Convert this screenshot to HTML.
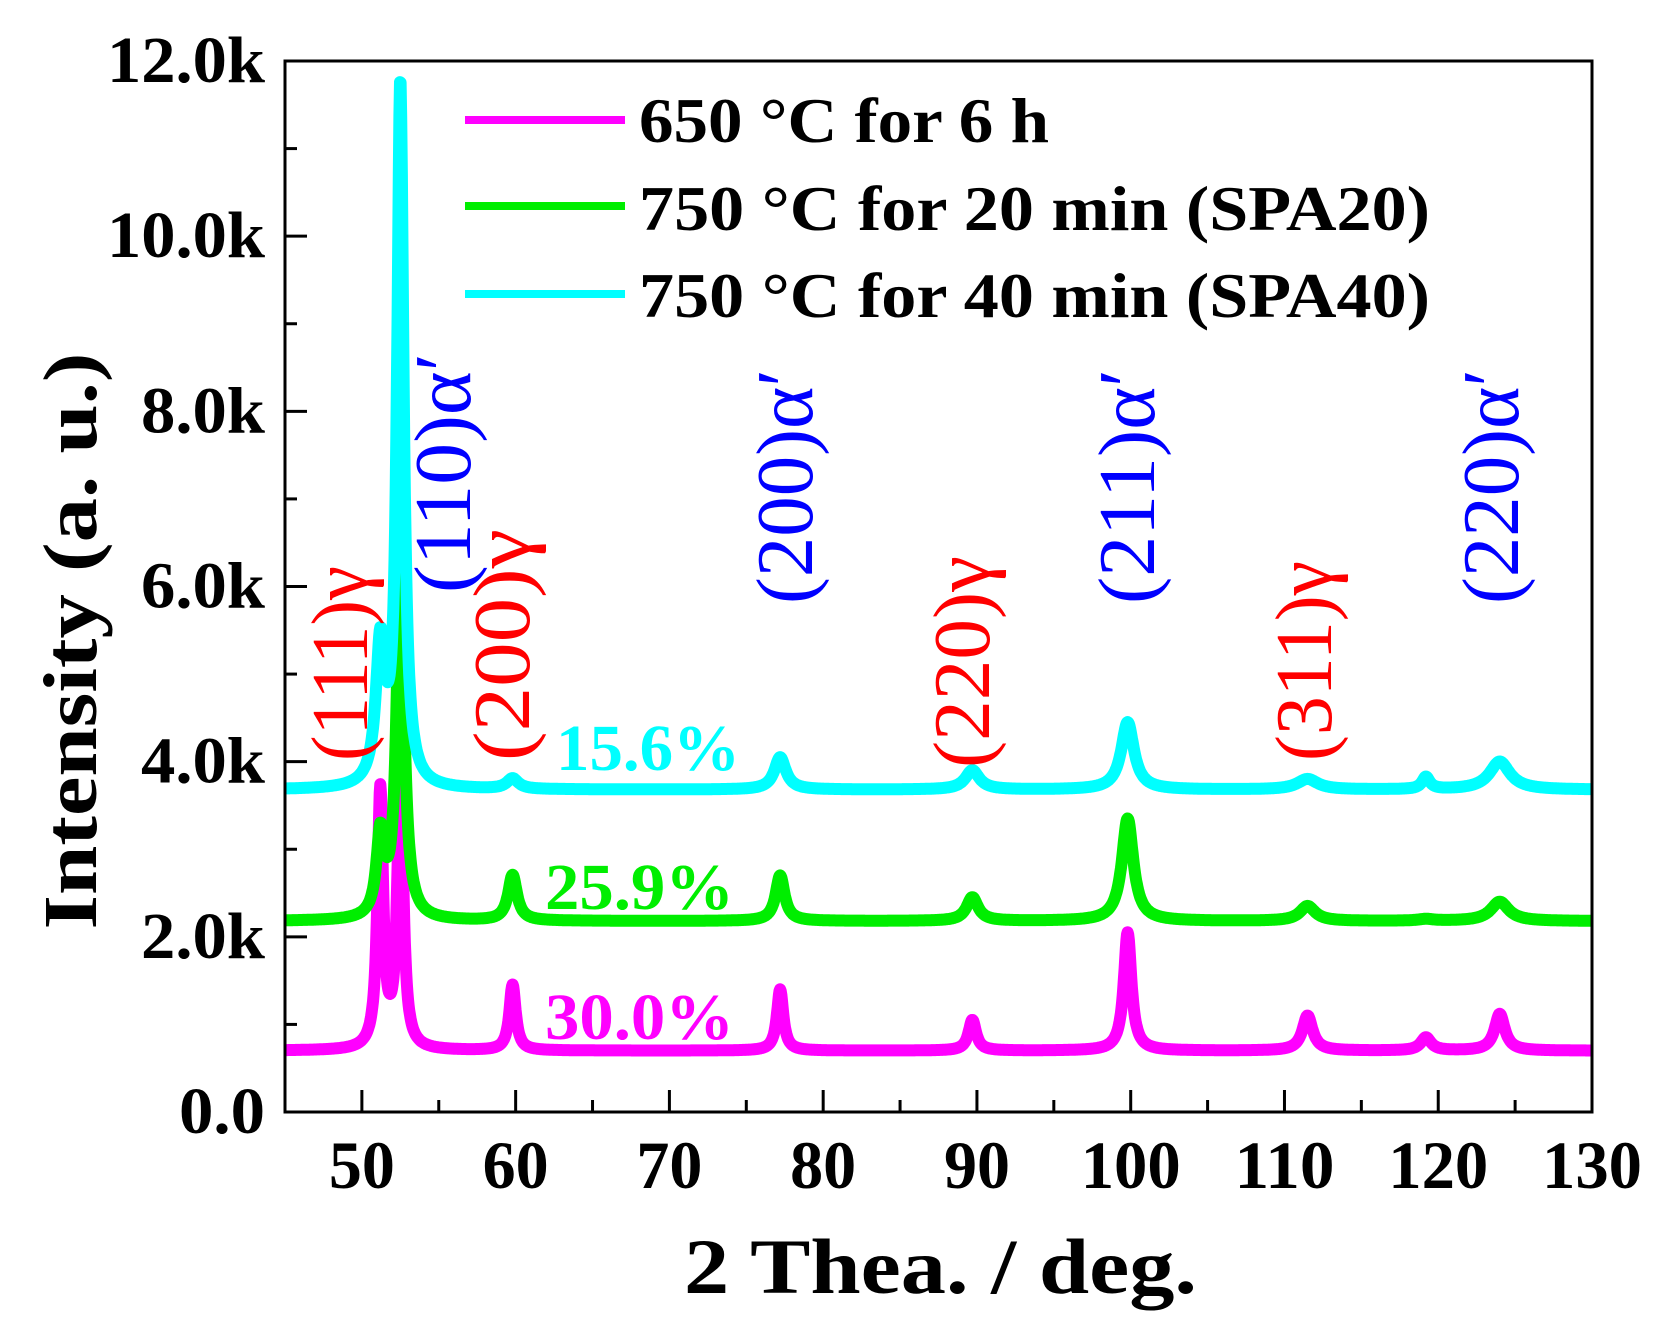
<!DOCTYPE html>
<html><head><meta charset="utf-8"><style>
html,body{margin:0;padding:0;background:#fff}
svg{display:block}
text{font-family:"Liberation Serif",serif}
</style></head><body>
<svg id="chart" width="1667" height="1331" viewBox="0 0 1667 1331" xmlns="http://www.w3.org/2000/svg">
<g id="plot"></g>
</svg>
<script>
const xTicks=[50,60,70,80,90,100,110,120,130];
const yTicks=[0,2000,4000,6000,8000,10000,12000];
const yTickLabels=["0.0","2.0k","4.0k","6.0k","8.0k","10.0k","12.0k"];
const seriesNames=["650 °C for 6 h","750 °C for 20 min (SPA20)","750 °C for 40 min (SPA40)"];
const baselines=[700,2180,3680];
const peakPos=[51.2,52.5,59.8,77.2,89.7,99.8,111.5,119.2,124.0];
const magentaPeaks=[3650,4050,1450,1400,1050,2050,1100,850,1120];
const greenPeaks=[3100,6200,2700,2700,2450,3350,2350,2200,2400];
const cyanPeaks=[5250,11700,3800,4050,3900,4450,3800,3820,4000];
const peakWidthM=[0.22,0.22,0.25,0.25,0.3,0.3,0.4,0.4,0.4];
const peakWidthG=[0.3,0.3,0.35,0.35,0.45,0.45,0.6,0.6,0.7];
const peakWidthC=[0.35,0.25,0.45,0.45,0.55,0.5,0.8,0.3,0.8];

const L=285,R=1592,T=61,B=1112;
const X=v=>L+(v-45)/85*(R-L);
const Y=v=>B-v/12000*(B-T);
const NS="http://www.w3.org/2000/svg";
const svg=document.getElementById('chart');
function mk(tag,attrs,parent){const e=document.createElementNS(NS,tag);for(const k in attrs)e.setAttribute(k,attrs[k]);(parent||svg).appendChild(e);return e;}

function curve(base,peaks,widths){
  let d="";
  for(let x=45;x<=130.001;x+=0.04){
    let v=base;
    for(let i=0;i<peakPos.length;i++){const h=peaks[i]-base;const w=widths[i];const t=(x-peakPos[i])/w;v+=h/(1+t*t);}
    d+=(d?"L":"M")+X(x).toFixed(1)+" "+Y(v).toFixed(1);
  }
  return d;
}
const colors=["#ff00ff","#00ee00","#00ffff"];
const data=[[magentaPeaks,peakWidthM],[greenPeaks,peakWidthG],[cyanPeaks,peakWidthC]];
const names=["series-650c-6h","series-spa20","series-spa40"];
for(let s=0;s<3;s++){
  const p=mk('path',{d:curve(baselines[s],data[s][0],data[s][1]),fill:"none",stroke:colors[s],"stroke-width":12,"stroke-linejoin":"round"});
  
  
}
const fr=mk('rect',{x:L,y:T,width:R-L,height:B-T,fill:"none",stroke:"#000","stroke-width":3});


for(let v=45;v<=130;v+=5){
  const major=v%10===0;
  const t=mk('line',{x1:X(v),x2:X(v),y1:B,y2:B-(major?22:12),stroke:"#000","stroke-width":3});
  
  
}
xTicks.forEach(v=>{
  const t=mk('text',{x:X(v),y:1188,"text-anchor":"middle","font-size":68,"font-weight":"bold",textLength:v>=100?100:66,lengthAdjust:"spacingAndGlyphs"});
  t.textContent=v;
  
  
});
for(let v=0;v<=12000;v+=1000){
  const major=v%2000===0;
  const t=mk('line',{x1:L,x2:L+(major?22:12),y1:Y(v),y2:Y(v),stroke:"#000","stroke-width":3});
  
  
}
yTicks.forEach((v,i)=>{
  const len=yTickLabels[i].length===5?158:(yTickLabels[i].length===4?124:86);
  const t=mk('text',{x:265,y:Y(v)+21,"text-anchor":"end","font-size":66,"font-weight":"bold",textLength:len,lengthAdjust:"spacingAndGlyphs"});
  t.textContent=yTickLabels[i];
  
  
});
const xt=mk('text',{x:684,y:1293,"font-size":78,"font-weight":"bold",textLength:513,lengthAdjust:"spacingAndGlyphs"});
xt.textContent="2 Thea. / deg.";


const yt=mk('text',{x:0,y:0,"font-size":76,"font-weight":"bold","text-anchor":"middle",textLength:577,lengthAdjust:"spacingAndGlyphs",transform:"translate(96,641) rotate(-90)"});
yt.textContent="Intensity (a. u.)";


const legY=[120,206,294],legB=[142,230,317],legW=[410,791,791];
for(let i=0;i<3;i++){
  const l=mk('line',{x1:465,x2:625,y1:legY[i],y2:legY[i],stroke:colors[i],"stroke-width":8});
  
  
  const t=mk('text',{x:639,y:legB[i],"font-size":64,"font-weight":"bold",textLength:legW[i],lengthAdjust:"spacingAndGlyphs"});
  t.textContent=seriesNames[i];
  
  
}
const pct=[["15.6%",556,770,"#00ffff"],["25.9%",545,909,"#00ee00"],["30.0%",545,1039,"#ff00ff"]];
pct.forEach(p=>{
  const t=mk('text',{x:p[1],y:p[2],"font-size":66,"font-weight":"bold",fill:p[3],textLength:p[1]===556?184:189,lengthAdjust:"spacingAndGlyphs"});
  t.textContent=p[0];
  
  
});
const pk=[["(111)γ",367,761,"#ff0000",195],["(110)α′",470,593,"#0000ff",240],["(200)γ",529,761,"#ff0000",232],["(200)α′",812,604,"#0000ff",235],["(220)γ",989,768,"#ff0000",212],["(211)α′",1154,604,"#0000ff",235],["(311)γ",1331,761,"#ff0000",200],["(220)α′",1518,604,"#0000ff",235]];
pk.forEach(p=>{
  const t=mk('text',{x:0,y:0,"font-size":80,fill:p[3],textLength:p[4],lengthAdjust:"spacingAndGlyphs",transform:`translate(${p[1]},${p[2]}) rotate(-90)`});
  t.textContent=p[0];
  
  
});
</script>
</body></html>
